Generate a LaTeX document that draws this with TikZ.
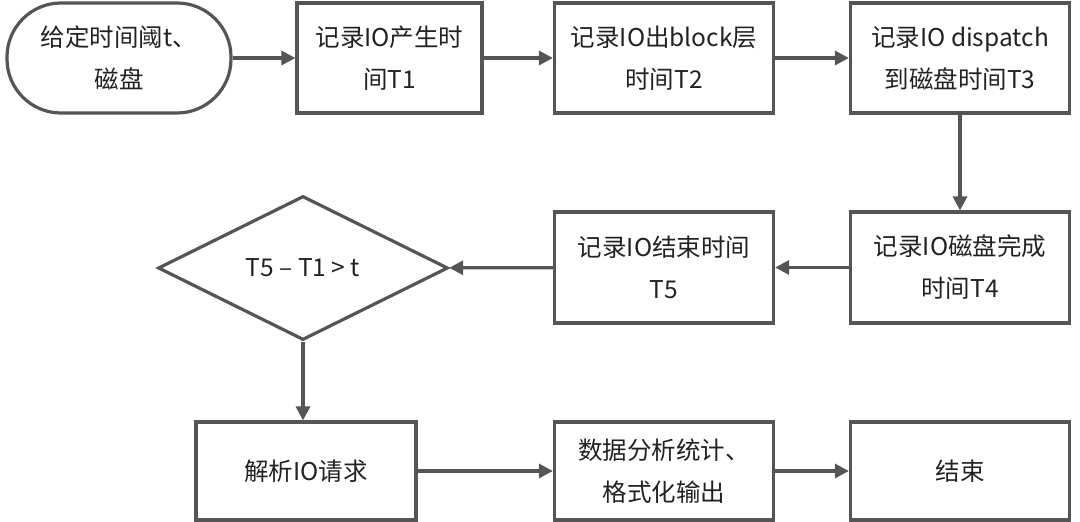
\documentclass[tikz,border=0pt]{standalone}
\usepackage{fontspec}
\setmainfont{Noto Sans CJK SC}
\usetikzlibrary{shapes.geometric,arrows.meta}
\definecolor{lc}{HTML}{555555}
\definecolor{tc}{HTML}{222222}
\begin{document}
\begin{tikzpicture}[x=1pt,y=-1pt,
  every node/.style={font=\fontsize{24.5}{42}\selectfont, text=tc, align=center},
  box/.style={draw=lc, line width=3.2pt, rectangle, inner sep=0pt},
  conn/.style={draw=lc, line width=3.2pt, -{Triangle[length=14pt,width=14pt]}}]
\useasboundingbox (0,0) rectangle (1080,522);
\node[box, rounded corners=54pt, minimum width=224, minimum height=110] (start) at (119,58) {给定时间阈t、\\磁盘};
\node[box, minimum width=185, minimum height=110] (b1) at (389.5,58) {记录IO产生时\\间T1};
\node[box, minimum width=219, minimum height=110] (b2) at (664,58) {记录IO出block层\\时间T2};
\node[box, minimum width=219, minimum height=110] (b3) at (960,58) {记录IO dispatch\\到磁盘时间T3};
\node[box, minimum width=219, minimum height=111] (b4) at (960,267.5) {记录IO磁盘完成\\时间T4};
\node[box, minimum width=219, minimum height=111] (b5) at (664,267.5) {记录IO结束时间\\T5};
\node[draw=lc, line width=3.2pt, diamond, aspect=2, inner sep=0pt, minimum width=290, minimum height=144] (d) at (303,268) {T5 – T1 > t};
\node[box, minimum width=220, minimum height=98] (b6) at (306,471) {解析IO请求};
\node[box, minimum width=219, minimum height=98] (b7) at (664,471) {数据分析统计、\\格式化输出};
\node[box, minimum width=219, minimum height=98] (b8) at (960,471) {结束};
\draw[conn] (start) -- (b1);
\draw[conn] (b1) -- (b2);
\draw[conn] (b2) -- (b3);
\draw[conn] (b3) -- (b4);
\draw[conn] (b4) -- (b5);
\draw[conn] (b5) -- (d);
\draw[conn] (d.south) -- (d.south |- b6.north);
\draw[conn] (b6) -- (b7);
\draw[conn] (b7) -- (b8);
\end{tikzpicture}
\end{document}
